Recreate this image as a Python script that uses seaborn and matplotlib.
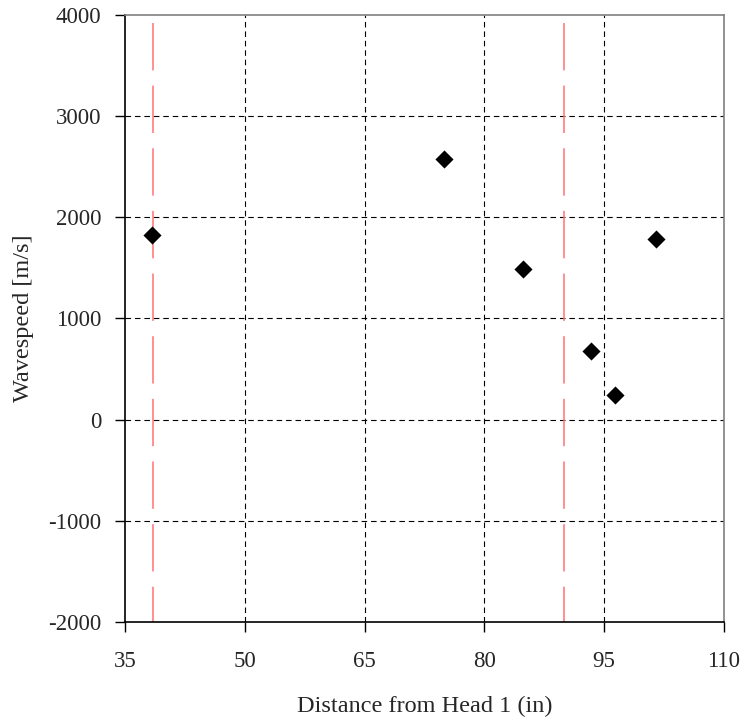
import numpy as np
import pandas as pd
import seaborn as sns
import matplotlib.pyplot as plt

# wavespeed measurements
distance = [38.4, 75.0, 84.9, 93.3, 96.3, 101.5]
wavespeed = [1830, 2580, 1490, 680, 245, 1790]

# red reference lines (sensor positions)
ref_x = [38.5, 90.0]
ref_top = 3920
ref_bottom = -2000

x_ticks = [35, 50, 65, 80, 95, 110]
y_ticks = [-2000, -1000, 0, 1000, 2000, 3000, 4000]

sns.set_style("white")
plt.rcParams['font.family'] = ['Liberation Serif', 'DejaVu Serif']
plt.rcParams['axes.unicode_minus'] = False

fig = plt.figure(figsize=(7.44, 7.23), dpi=100)
ax = fig.add_axes([0.168, 0.14, 0.805, 0.839])

df = pd.DataFrame({'Distance': distance, 'Wavespeed': wavespeed})

ax.set_xlim(35, 110)
ax.set_ylim(-2000, 4000)
ax.set_xticks(x_ticks)
ax.set_yticks(y_ticks)

# dashed grid
for gx in x_ticks[1:-1]:
    ax.axvline(gx, color='black', lw=0.8, dashes=(5, 3.5), zorder=1)
for gy in y_ticks[1:-1]:
    ax.axhline(gy, color='black', lw=0.8, dashes=(5, 3.5), zorder=1)

for rx in ref_x:
    ref_df = pd.DataFrame({'x': [rx, rx], 'y': [ref_top, ref_bottom]})
    sns.lineplot(data=ref_df, x='x', y='y', ax=ax, color='#ff7272', lw=1.1,
                 dashes=False, sort=False, estimator=None, zorder=2)
    ax.lines[-1].set_dashes((31, 10))

sns.scatterplot(data=df, x='Distance', y='Wavespeed', ax=ax, marker='D',
                color='black', s=85, edgecolor='black', linewidth=0, zorder=3)

ax.set_xlabel('Distance from Head 1 (in)', fontsize=17.5, labelpad=17)
ax.set_ylabel('Wavespeed [m/s]', fontsize=17.5, labelpad=10)
ax.tick_params(axis='both', labelsize=16.5, direction='out', length=7, width=1,
               color='black', bottom=True, left=True)
ax.tick_params(axis='x', pad=14)
ax.tick_params(axis='y', pad=10)

ax.spines['left'].set_color('black')
ax.spines['bottom'].set_color('black')
ax.spines['top'].set_color('#808080')
ax.spines['right'].set_color('#808080')
for sp in ax.spines.values():
    sp.set_linewidth(1.2)

fig.savefig('out.png', dpi=100)
